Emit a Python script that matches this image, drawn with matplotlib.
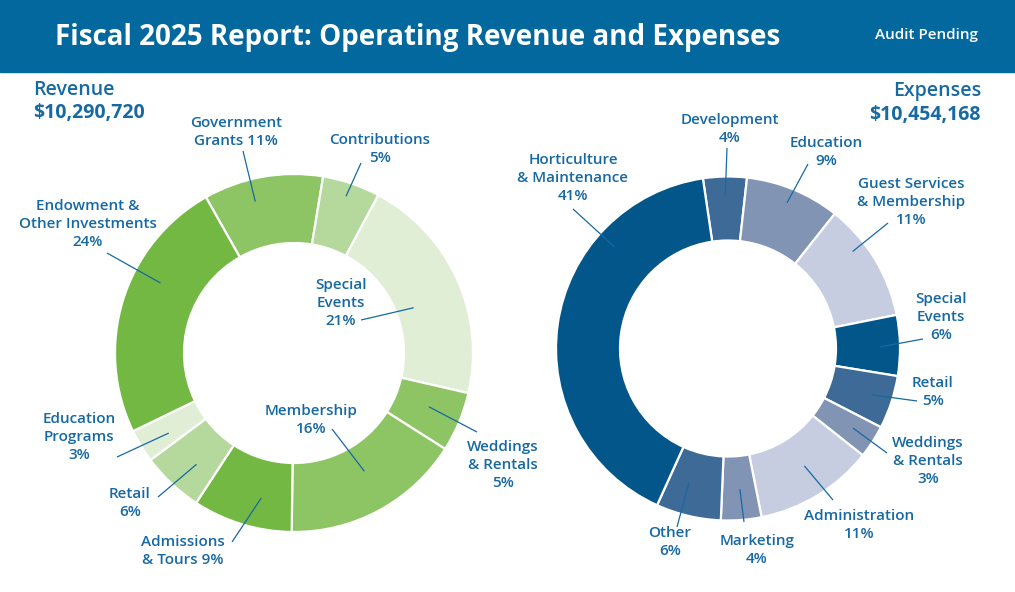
import numpy as np
import matplotlib.pyplot as plt
from matplotlib.patches import Rectangle

plt.rcParams['font.family'] = ['Open Sans', 'DejaVu Sans']

# %% data
rev_total = 10290720
rev_labels = ['Government\nGrants', 'Contributions', 'Special\nEvents', 'Weddings\n& Rentals',
              'Membership', 'Admissions\n& Tours', 'Retail', 'Education\nPrograms',
              'Endowment &\nOther Investments']
rev_values = [1111400, 535100, 2140500, 555700, 1667100, 926200, 576300, 308700, 2469720]
rev_colors = ['#8dc464', '#b5d99c', '#e1eed6', '#8dc464', '#8dc464', '#72b843', '#b5d99c',
              '#e1eed6', '#72b843']

exp_total = 10454168
exp_labels = ['Development', 'Education', 'Guest Services\n& Membership', 'Special\nEvents',
              'Retail', 'Weddings\n& Rentals', 'Administration', 'Marketing', 'Other',
              'Horticulture\n& Maintenance']
exp_values = [428600, 930400, 1170900, 595900, 522700, 324100, 1170900, 397300, 637700, 4275668]
exp_colors = ['#3d6a96', '#8194b4', '#c6cde0', '#03568a', '#3d6a96', '#8194b4', '#c6cde0',
              '#8194b4', '#3d6a96', '#03568a']

# label layout in pixels: text centre, leader end, leader start (radius frac, angle frac), pct inline
rev_layout = [((236, 132), (243, 151), 0.67, 0.39, True), ((380, 149), (361, 163), 0.80, 0.48, False),
              ((341, 303), (361, 320), 0.26, 0.55, False), ((503, 465), (477, 432), 0.51, 0.45, False),
              ((311, 420), (332, 429), 0.40, 0.46, False), ((183, 551), (232, 542), 0.56, 0.37, True),
              ((130, 503), (158, 497), 0.55, 0.40, False), ((79, 437), (117, 457), 0.56, 0.38, False),
              ((88, 224), (107, 253), 0.59, 0.62, False)]
exp_layout = [((730, 129), (727, 148), 0.71, 0.50, False), ((826, 152), (808, 164), 0.77, 0.49, False),
              ((911, 202), (888, 223), 0.78, 0.34, False), ((941, 317), (923, 339), 0.69, 0.52, False),
              ((933, 392), (917, 401), 0.67, 0.48, False), ((928, 461), (887, 453), 0.63, 0.47, False),
              ((859, 525), (833, 500), 0.50, 0.46, False), ((757, 550), (744, 522), 0.52, 0.47, False),
              ((670, 542), (677, 527), 0.50, 0.63, False), ((573, 178), (573, 209), 0.69, 0.73, False)]

W, H = 1015, 592
txt_col = '#1769a3'
head_col = '#02689d'

def Y(y):
    return H - y

def donut(ax, values, colors, labels, layout, centre, r_out, r_in, start):
    cx, cy = centre[0], Y(centre[1])
    wedges, _ = ax.pie(values, colors=colors, startangle=start, counterclock=False,
                       center=(cx, cy), radius=r_out,
                       wedgeprops=dict(width=r_out - r_in, edgecolor='white', linewidth=1.6))
    total = sum(values)
    for w, lab, v, (tpos, lend, rfrac, afrac, inline) in zip(wedges, labels, values, layout):
        pct = '%d%%' % round(100 * v / total)
        text = lab + (' ' if inline else '\n') + pct
        # wedges run clockwise, so they start at theta2
        ang = np.deg2rad(w.theta2 - afrac * (w.theta2 - w.theta1))
        rr = r_in + rfrac * (r_out - r_in)
        ax.plot([cx + rr * np.cos(ang), lend[0]], [cy + rr * np.sin(ang), Y(lend[1])],
                color=txt_col, lw=0.9, solid_capstyle='butt', zorder=3)
        ax.text(tpos[0], Y(tpos[1]), text, ha='center', va='center', ma='center',
                fontsize=11, fontweight='semibold', color=txt_col, linespacing=1.38)

fig = plt.figure(figsize=(W / 100, H / 100), dpi=100)
ax = fig.add_axes([0, 0, 1, 1])

donut(ax, rev_values, rev_colors, rev_labels, rev_layout, (294, 353), 179, 110, 119.5)
donut(ax, exp_values, exp_colors, exp_labels, exp_layout, (728, 348.5), 172, 108, 98.4)

ax.add_patch(Rectangle((0, Y(72)), W, 72, color=head_col, zorder=5))
ax.text(55, Y(37), 'Fiscal 2025 Report: Operating Revenue and Expenses', ha='left', va='center',
        fontsize=20, fontweight='bold', color='white', zorder=6)
ax.text(978, Y(35), 'Audit Pending', ha='right', va='center', fontsize=11,
        fontweight='semibold', color='white', zorder=6)

ax.text(33, Y(90), 'Revenue', ha='left', va='center', fontsize=14, fontweight='semibold',
        color=txt_col)
ax.text(33, Y(113), '${:,}'.format(rev_total), ha='left', va='center', fontsize=14,
        fontweight='bold', color=txt_col)
ax.text(981, Y(91), 'Expenses', ha='right', va='center', fontsize=14, fontweight='semibold',
        color=txt_col)
ax.text(981, Y(115), '${:,}'.format(exp_total), ha='right', va='center', fontsize=14,
        fontweight='bold', color=txt_col)

ax.set_xlim(0, W)
ax.set_ylim(0, H)
ax.set_aspect('equal')
ax.axis('off')

fig.savefig('out.png', dpi=100)
